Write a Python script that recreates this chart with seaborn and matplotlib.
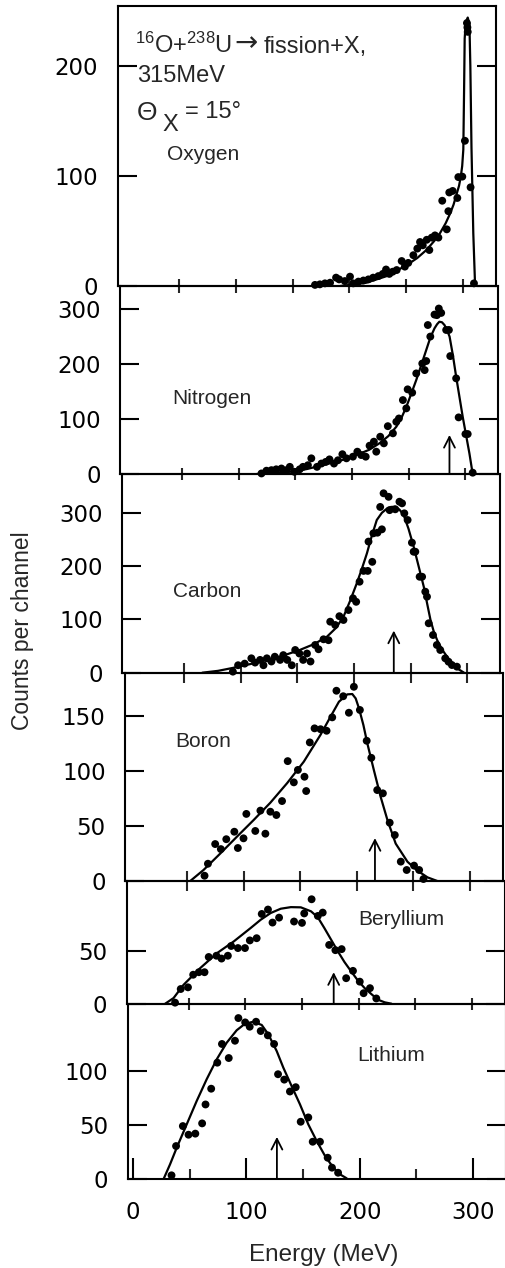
import matplotlib
matplotlib.use("Agg")
import matplotlib.pyplot as plt
import seaborn as sns

# ---------------- data ----------------
oxygen_pts_x = [169.7, 174, 178.5, 183, 188.3, 191, 196, 200.6, 203.5, 208, 212.4, 216.8, 221, 225.6,
                229.5, 232.4, 235.3, 238.3, 241.8, 246.2, 249, 252, 256.5, 260, 262.4, 264.8, 268.3,
                270.6, 272.7, 275.6, 278.6, 282, 286, 287.4, 288.2, 291.2, 295.3, 296.2, 299.7, 302,
                303.8, 304.2, 304.5, 307, 310]
oxygen_pts_y = [1, 1.5, 2.4, 3, 7.6, 6, 4.5, 8.5, 2.4, 4, 5, 6, 7.6, 9,
                11, 15, 11, 13, 14.5, 22.7, 17.6, 21, 28, 34, 40, 37, 42,
                32.7, 44, 46, 44, 77.5, 51.5, 68, 85, 86.4, 80, 99, 99.4, 132,
                239, 235, 231, 89.7, 2.4]
oxygen_fit_x = [192, 205, 215, 233, 250.7, 260, 268, 275, 280, 285, 289, 292, 294.8, 296.8, 298.3,
                299.6, 300.6, 301.3, 301.8, 302.8, 304.5, 306, 306.8, 307.8, 309.4, 311]
oxygen_fit_y = [0, 1.5, 3, 9, 19, 25.5, 32.7, 41, 48, 57, 66, 74, 84, 91, 99,
                109, 124, 180, 225, 240, 244, 238, 200, 126, 48, 0]

nitrogen_pts_x = [120, 124.4, 128.8, 133, 137.6, 142, 145, 149, 153.7, 156.6, 161, 164, 169, 172.9,
                  176.7, 180, 184, 187.5, 191.4, 195, 200.7, 204.6, 208, 212, 215.4, 219.2, 221.3,
                  224.8, 228, 231.5, 236, 239, 241.3, 244.8, 247.8, 249, 253, 256.6, 261.9, 264,
                  265.4, 266.8, 269, 272.7, 274.8, 276.5, 278.6, 283, 285.4, 286.6, 291.8, 294,
                  300, 302, 306.4]
nitrogen_pts_y = [1, 6, 7, 8.5, 10, 7, 13, 4, 8.5, 13, 16, 28.5, 13, 19,
                  22, 26.6, 19, 25, 36, 28.5, 31.5, 40.6, 34.5, 31.5, 51.5, 58.8, 40.6,
                  67.8, 55.8, 87, 74, 95, 101, 134.5, 119.4, 154, 148, 183, 201, 189,
                  205.5, 271, 250, 290, 289, 301, 293, 262, 262, 214.5, 174, 103,
                  72.7, 72.7, 2.4]
nitrogen_fit_x = [115.8, 130, 145, 160, 174, 190, 203.7, 215, 224.2, 232, 239, 243.5, 247.8, 252,
                  256.6, 261, 265.4, 269, 272.7, 275, 277, 279.3, 281.5, 283.7, 286, 289, 291.8,
                  297.6, 303.5, 306.4]
nitrogen_fit_y = [0, 1.5, 4, 9, 16, 24.5, 34.5, 44, 56, 69, 86, 102, 122, 145,
                  171, 198, 225.5, 248, 265, 272.5, 277, 276, 271, 262, 250, 215, 177,
                  104, 37.6, 0]

carbon_pts_x = [93, 97.6, 103.4, 109.3, 112.6, 117, 120, 123, 127, 130, 134.7, 137.5, 141, 145,
                148, 151.7, 155, 158.4, 161.5, 165.6, 168.6, 173, 177.4, 178.9, 183.3, 187, 190.6,
                195, 199, 201.8, 204.8, 208.3, 212, 212.7, 216, 217, 220.6, 224.5, 223, 226,
                230.4, 231.3, 236.3, 240, 242.3, 244.3, 247.2, 251, 252.5, 254, 257.8, 260,
                262.8, 264.3, 265.8, 269.6, 273, 276, 280.4, 283.3, 286.3, 290.7]
carbon_pts_y = [2, 14, 17, 27, 19, 24, 14, 27, 21, 30, 24, 33, 24, 14,
                42.6, 36, 24, 36, 21, 52, 44, 62.7, 61, 95.7, 89.5, 106, 98.9,
                117.6, 139.6, 133, 170.7, 191, 191, 246, 208, 261.5, 262.7, 269, 311, 336.6,
                330, 305, 306.6, 320.8, 317.8, 299, 286.5, 244, 227, 227, 180, 180,
                152, 142.6, 92.7, 70.7, 52, 42.6, 27, 20.6, 14.4, 11.3]
carbon_fit_x = [66, 80, 93, 108, 123, 138, 152, 165, 176, 184, 190.6, 196.5, 202.4, 207,
                211.3, 215.5, 220, 224.5, 229, 232.5, 236.4, 240, 243.7, 248, 252.6, 257,
                261.5, 264.5, 267.4, 270.3, 273.3, 277.5, 282, 286.5, 291, 297]
carbon_fit_y = [0, 3.5, 9, 16, 24, 32.5, 42.6, 54, 67.5, 84, 105, 135, 168, 196,
                224, 256, 286.5, 300, 308, 311, 311.4, 306, 296, 270, 236, 199,
                161, 129, 99, 77, 61, 44, 30, 18, 8, 0]

boron_pts_x = [65.6, 68.6, 75, 80, 84.8, 91.9, 95, 100, 102.5, 110.4, 114.9, 119.3, 123.7, 129,
               134, 139, 144.4, 148, 153.8, 155.3, 158.5, 162.7, 168, 173.3, 178.3, 182, 188,
               193, 197.4, 202.7, 208.7, 212.8, 218, 223, 229, 233.5, 238.8, 244, 250.5, 255,
               258.8]
boron_pts_y = [4.8, 15.7, 33.6, 29, 38, 44.8, 30, 38.8, 61, 45.5, 64, 43, 63, 60,
               72.7, 109, 89.7, 101, 94.8, 81.8, 126, 138.8, 138, 136.6, 148.8, 173, 168,
               153, 176.6, 155.5, 127.5, 112, 82.7, 79.7, 53, 41.8, 17.6, 10, 14, 10,
               1.8]
boron_fit_x = [53, 64.7, 79.5, 94.2, 109, 123.7, 138.5, 153.2, 168, 176.8, 184.2, 191.6, 196,
               199, 201.9, 205.8, 209.3, 215, 221, 227, 234.3, 244.7, 253.5, 262.4, 271]
boron_fit_y = [0, 10, 25, 40.3, 55.5, 71.2, 89, 108.5, 133, 149.4, 163, 169.7, 170,
               166, 157, 141.8, 125, 101, 76.6, 55.5, 34, 17.5, 9.4, 3.3, 0]

beryllium_pts_x = [38, 43, 49.4, 54, 59, 64, 67.7, 74.5, 79, 84.6, 87.5, 93.5, 99.7, 104, 110,
                   114.5, 120, 124, 129.8, 143, 150, 152, 158.5, 164, 168.3, 174, 179.5, 185,
                   189, 195, 201, 204.4, 210, 215.6]
beryllium_pts_y = [1, 14, 15.6, 27.6, 30, 30, 44.5, 45.7, 43, 45.7, 55, 53, 53, 60.3, 62.4,
                   85.5, 89.7, 77.3, 82, 78.3, 77, 86, 99.5, 83.6, 86.8, 56, 51, 52,
                   24.3, 31.3, 21, 10, 14.8, 5]
beryllium_fit_x = [29.3, 36.7, 45.5, 60.3, 75.2, 89.9, 104.7, 113.6, 122.4, 131.3, 140.2, 149,
                   158, 164, 169.8, 175.7, 181.6, 187.5, 193.4, 199.4, 205.2, 211.2, 217.1, 223, 229]
beryllium_fit_y = [0, 5.4, 18, 34, 48.3, 59.4, 72.1, 80, 86.4, 90.5, 92, 91.8,
                   88, 82.3, 72, 61, 50, 39.7, 30.8, 22, 15, 9.2, 3.8, 1.3, 0]

lithium_pts_x = [34, 38, 44, 49, 55, 61, 64, 69, 74.4, 78.5, 84.5, 90, 93, 99, 103, 108.6,
                 112.7, 119, 124.5, 128, 133.5, 138.5, 143.6, 148, 154.7, 158.6, 165, 171.8,
                 175.6, 181]
lithium_pts_y = [3.4, 30.5, 49, 41, 42, 51.5, 69, 83.6, 107.7, 125, 112, 128, 149, 145, 141,
                 145.6, 137, 133, 125, 97, 92, 81, 85, 53, 57, 34.5, 34.5, 19.7, 10.5, 5.8]
lithium_fit_x = [27, 32.7, 38.6, 47.4, 56.2, 65, 73.9, 82.7, 91.5, 98.9, 106.2, 113.6, 119.4,
                 126.8, 132.7, 140, 147.4, 154.7, 162.1, 169.5, 176.8, 182.7, 188.6]
lithium_fit_y = [0, 13.6, 29, 50.6, 72.2, 92.3, 110.8, 126.2, 137.7, 143.8, 145.6, 142.6, 134,
                 118.5, 103, 86, 69, 50.6, 35.2, 21.3, 10.5, 4.3, 0.6]

# arrow markers (energy, arrow height)
arrow_energy = {"Nitrogen": 285.9, "Carbon": 235, "Boron": 216, "Beryllium": 178, "Lithium": 127}
arrow_height = {"Nitrogen": 71, "Carbon": 79, "Boron": 39, "Beryllium": 30, "Lithium": 39}

element_names = ["Oxygen", "Nitrogen", "Carbon", "Boron", "Beryllium", "Lithium"]
y_ticks = [[0, 100, 200], [0, 100, 200, 300], [0, 100, 200, 300],
           [0, 50, 100, 150], [0, 50], [0, 50, 100]]
x_tick_labels = [0, 100, 200, 300]
x_label = "Energy (MeV)"
y_label = "Counts per channel"

points = [(oxygen_pts_x, oxygen_pts_y), (nitrogen_pts_x, nitrogen_pts_y),
          (carbon_pts_x, carbon_pts_y), (boron_pts_x, boron_pts_y),
          (beryllium_pts_x, beryllium_pts_y), (lithium_pts_x, lithium_pts_y)]
fits = [(oxygen_fit_x, oxygen_fit_y), (nitrogen_fit_x, nitrogen_fit_y),
        (carbon_fit_x, carbon_fit_y), (boron_fit_x, boron_fit_y),
        (beryllium_fit_x, beryllium_fit_y), (lithium_fit_x, lithium_fit_y)]

# ---------------- layout (pixels of the 505x1268 figure) ----------------
W, H = 505, 1268
tops = [6, 286, 474, 672.7, 881, 1003.7]
bottoms = [286, 474, 672.7, 881, 1003.7, 1179]
lefts = [117.6, 120.4, 122.4, 125.1, 126.9, 127.9]
panel_w = 377.9
xlim = (-4.5, 329)
ytops = [254.5, 342, 372.8, 189.4, 116.9, 162.3]
xtick_len = [9.5, 8, 14, 15, 9]
label_pos = {"Oxygen": (39, 114.5), "Nitrogen": (41, 127), "Carbon": (40, 142.6),
             "Boron": (39.6, 122), "Beryllium": (199.6, 75), "Lithium": (197.7, 109)}
tick_font = ['DejaVu Sans']

sns.set_style("ticks")
plt.rcParams['font.family'] = ['Liberation Sans', 'DejaVu Sans']
plt.rcParams['mathtext.fontset'] = 'custom'
plt.rcParams['mathtext.rm'] = 'Liberation Sans'
plt.rcParams['mathtext.it'] = 'Liberation Sans:italic'
plt.rcParams['mathtext.bf'] = 'Liberation Sans:bold'

fig = plt.figure(figsize=(W / 100, H / 100), dpi=100)
fig.patch.set_facecolor('white')

for i, name in enumerate(element_names):
    ax = fig.add_axes([lefts[i] / W, 1 - bottoms[i] / H, panel_w / W, (bottoms[i] - tops[i]) / H])
    ax.set_facecolor('none')
    fx, fy = fits[i]
    sns.lineplot(x=fx, y=fy, ax=ax, color='black', linewidth=1.6, sort=False, estimator=None)
    px, py = points[i]
    sns.scatterplot(x=px, y=py, ax=ax, color='black', s=32, edgecolor='none', linewidth=0,
                    clip_on=False, zorder=3)
    if name in arrow_energy:
        ax.annotate('', xy=(arrow_energy[name], arrow_height[name]), xytext=(arrow_energy[name], 0),
                    arrowprops=dict(arrowstyle='->,head_length=0.55,head_width=0.28', color='black',
                                    lw=1.3, shrinkA=0, shrinkB=0, mutation_scale=14))
    ax.set_xlim(*xlim)
    ax.set_ylim(0, ytops[i])
    ax.set_xlabel('')
    ax.set_ylabel('')
    for sp in ax.spines.values():
        sp.set_visible(True)
        sp.set_linewidth(1.5)
        sp.set_color('black')
    ax.set_yticks(y_ticks[i])
    ax.set_yticklabels([str(v) for v in y_ticks[i]], family=tick_font, fontsize=16.5)
    ax.tick_params(axis='y', which='major', direction='in', length=13.5, width=1.5,
                   left=True, right=True, labelleft=True, labelright=False, pad=14,
                   colors='black')
    if i < 5:
        ax.set_xticks(list(range(50, 301, 50)))
        ax.tick_params(axis='x', which='major', direction='inout', length=xtick_len[i], width=1.5,
                       bottom=True, top=False, labelbottom=False)
    else:
        ax.set_xticks(x_tick_labels)
        ax.set_xticklabels([str(v) for v in x_tick_labels], family=tick_font, fontsize=16.5)
        ax.set_xticks([50, 150, 250], minor=True)
        ax.tick_params(axis='x', which='major', direction='in', length=15, width=1.5,
                       bottom=True, top=False, pad=16, colors='black')
        ax.tick_params(axis='x', which='minor', direction='in', length=7, width=1.5,
                       bottom=True, top=False)
    lx, ly = label_pos[name]
    ax.text(lx, ly, name, fontsize=15, va='baseline', ha='left')
    if name == "Oxygen":
        ax.text(10.9, 211.8, r'$^{16}$O+$^{238}$U', fontsize=17, va='baseline')
        ax.text(98.5, 213.5, '→', fontsize=20, va='baseline', family=['DejaVu Sans'])
        ax.text(124.7, 211.8, 'fission+X,', fontsize=17, va='baseline')
        ax.text(12.6, 185.5, '315MeV', fontsize=17, va='baseline')
        ax.text(12.6, 151, 'Θ', fontsize=19, va='baseline')
        ax.text(35.5, 141, 'X', fontsize=17, va='baseline')
        ax.text(55, 152.7, '= 15°', fontsize=17, va='baseline')

fig.text(23 / W, 1 - 631 / H, y_label, rotation=90, fontsize=16.5, ha='center', va='center')
fig.text(324 / W, 1 - 1255 / H, x_label, fontsize=17.5, ha='center', va='center')

fig.savefig('out.png', dpi=100, facecolor='white')
